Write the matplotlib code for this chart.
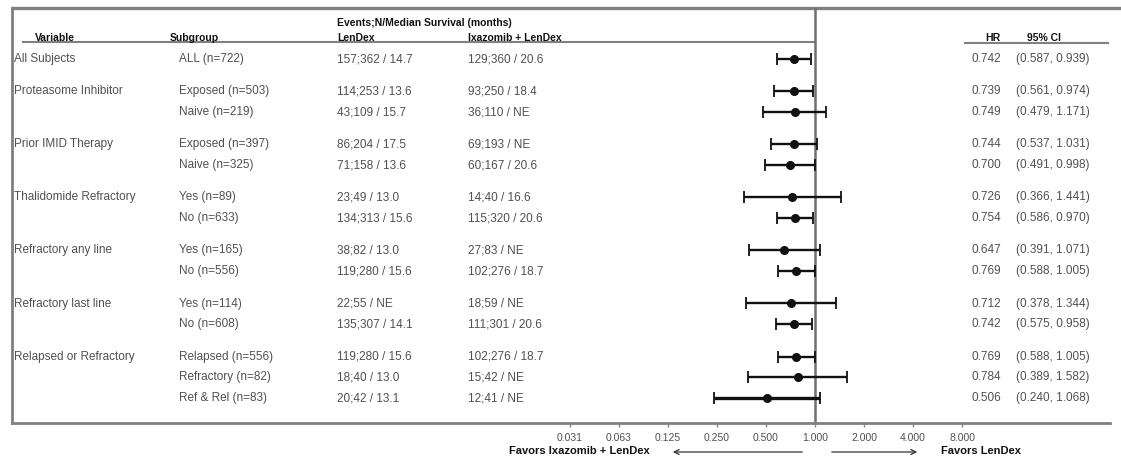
import matplotlib
matplotlib.use("Agg")
import matplotlib.pyplot as plt
from matplotlib.ticker import FixedLocator, NullLocator, FixedFormatter

plt.rcParams["font.family"] = ["Liberation Sans", "DejaVu Sans"]

# ── Data ──────────────────────────────────────────────────────────────────────
VARIABLES = ["All Subjects", "Proteasome Inhibitor", "Prior IMID Therapy",
             "Thalidomide Refractory", "Refractory any line",
             "Refractory last line", "Relapsed or Refractory"]
GROUP_SIZES = [1, 2, 2, 2, 2, 2, 3]

SUBGROUPS = ["ALL (n=722)",
             "Exposed (n=503)", "Naive (n=219)",
             "Exposed (n=397)", "Naive (n=325)",
             "Yes (n=89)", "No (n=633)",
             "Yes (n=165)", "No (n=556)",
             "Yes (n=114)", "No (n=608)",
             "Relapsed (n=556)", "Refractory (n=82)", "Ref & Rel (n=83)"]
LENDEX = ["157;362 / 14.7", "114;253 / 13.6", "43;109 / 15.7", "86;204 / 17.5",
          "71;158 / 13.6", "23;49 / 13.0", "134;313 / 15.6", "38;82 / 13.0",
          "119;280 / 15.6", "22;55 / NE", "135;307 / 14.1", "119;280 / 15.6",
          "18;40 / 13.0", "20;42 / 13.1"]
IXA_LENDEX = ["129;360 / 20.6", "93;250 / 18.4", "36;110 / NE", "69;193 / NE",
              "60;167 / 20.6", "14;40 / 16.6", "115;320 / 20.6", "27;83 / NE",
              "102;276 / 18.7", "18;59 / NE", "111;301 / 20.6", "102;276 / 18.7",
              "15;42 / NE", "12;41 / NE"]
HR = [0.742, 0.739, 0.749, 0.744, 0.700, 0.726, 0.754, 0.647, 0.769, 0.712,
      0.742, 0.769, 0.784, 0.506]
CI_LO = [0.587, 0.561, 0.479, 0.537, 0.491, 0.366, 0.586, 0.391, 0.588, 0.378,
         0.575, 0.588, 0.389, 0.240]
CI_HI = [0.939, 0.974, 1.171, 1.031, 0.998, 1.441, 0.970, 1.071, 1.005, 1.344,
         0.958, 1.005, 1.582, 1.068]

TICKS = [0.03125, 0.0625, 0.125, 0.25, 0.5, 1, 2, 4, 8]
TICK_LABELS = ["0.031", "0.063", "0.125", "0.250", "0.500", "1.000", "2.000",
               "4.000", "8.000"]

# ── Layout (pixel space) ──────────────────────────────────────────────────────
W, H = 1121, 461
BOX_L, BOX_R, BOX_T, BOX_B = 12, 1110, 8, 423
ROW0, STEP, GAP = 59, 20.75, 32.3
TXT = "#505050"
LINE = "#808080"

# row y positions: STEP inside a group, GAP between groups
row_y, group_y = [], []
y = ROW0
for gi, n in enumerate(GROUP_SIZES):
    if gi > 0:
        y += GAP
    group_y.append(y)
    for k in range(n):
        if k > 0:
            y += STEP
        row_y.append(y)

fig = plt.figure(figsize=(W / 100, H / 100), dpi=100)
ax = fig.add_axes([0, 0, 1, 1])
ax.set_xlim(0, W); ax.set_ylim(H, 0); ax.axis("off")

# forest panel = the box
fax = fig.add_axes([BOX_L / W, (H - BOX_B) / H, (BOX_R - BOX_L) / W, (BOX_B - BOX_T) / H])
fax.set_facecolor("none")
fax.set_xscale("log", base=2)
fax.set_xlim(2 ** -16.39, 2 ** 6.02)
fax.set_ylim(BOX_B, BOX_T)
fax.yaxis.set_visible(False)
for s in ["top", "right"]:
    fax.spines[s].set_visible(False)
for s in ["left", "bottom"]:
    fax.spines[s].set_color(LINE); fax.spines[s].set_linewidth(2)
fax.xaxis.set_major_locator(FixedLocator(TICKS))
fax.xaxis.set_major_formatter(FixedFormatter(TICK_LABELS))
fax.xaxis.set_minor_locator(NullLocator())
fax.tick_params(axis="x", direction="out", length=3, width=1, color=LINE,
                labelsize=7.5, labelcolor=TXT, pad=4)
fax.axvline(1, color="#707070", lw=1.8, zorder=1)

# top border (runs to the image edge)
ax.plot([BOX_L - 1, W], [BOX_T, BOX_T], color=LINE, lw=2.4, solid_capstyle="butt")

# CI bars
for i in range(len(HR)):
    lw = 2.4 if i == len(HR) - 1 else 1.7
    fax.errorbar(HR[i], row_y[i], xerr=[[HR[i] - CI_LO[i]], [CI_HI[i] - HR[i]]],
                 fmt="o", color="#111111", ms=5.5, lw=lw, capsize=4.2,
                 capthick=1.3, zorder=3)

# ── Headers ───────────────────────────────────────────────────────────────────
hdr = dict(fontsize=7.5, fontweight="bold", color="#111111", va="center")
ax.text(35, 38, "Variable", **hdr)
ax.text(170, 38, "Subgroup", **hdr)
ax.text(337, 23, "Events;N/Median Survival (months)", **hdr)
ax.text(337, 38, "LenDex", **hdr)
ax.text(468, 38, "Ixazomib + LenDex", **hdr)
ax.text(985, 38, "HR", **hdr)
ax.text(1027, 38, "95% CI", **hdr)
ax.plot([23, 815], [42.5, 42.5], color=LINE, lw=1.5)
ax.plot([965, 1108], [43, 43], color=LINE, lw=1.5)

# ── Table body ────────────────────────────────────────────────────────────────
body = dict(fontsize=8.5, color=TXT, va="center")
for name, gy in zip(VARIABLES, group_y):
    ax.text(14, gy, name, **body)
for i, yy in enumerate(row_y):
    ax.text(179, yy, SUBGROUPS[i], **body)
    ax.text(337, yy, LENDEX[i], **body)
    ax.text(468, yy, IXA_LENDEX[i], **body)
    ax.text(972, yy, f"{HR[i]:.3f}", **body)
    ax.text(1016, yy, f"({CI_LO[i]:.3f}, {CI_HI[i]:.3f})", **body)

# ── Favors labels + arrows ────────────────────────────────────────────────────
fav = dict(fontsize=8, fontweight="bold", color="#111111", va="center")
ax.text(650, 451, "Favors Ixazomib + LenDex", ha="right", **fav)
ax.text(941, 451, "Favors LenDex", ha="left", **fav)
arr = dict(arrowstyle="->", color="#333333", lw=0.9, mutation_scale=9)
ax.annotate("", xy=(670, 452), xytext=(805, 452), arrowprops=arr)
ax.annotate("", xy=(920, 452), xytext=(829, 452), arrowprops=arr)

fig.savefig("out.png", dpi=100)
